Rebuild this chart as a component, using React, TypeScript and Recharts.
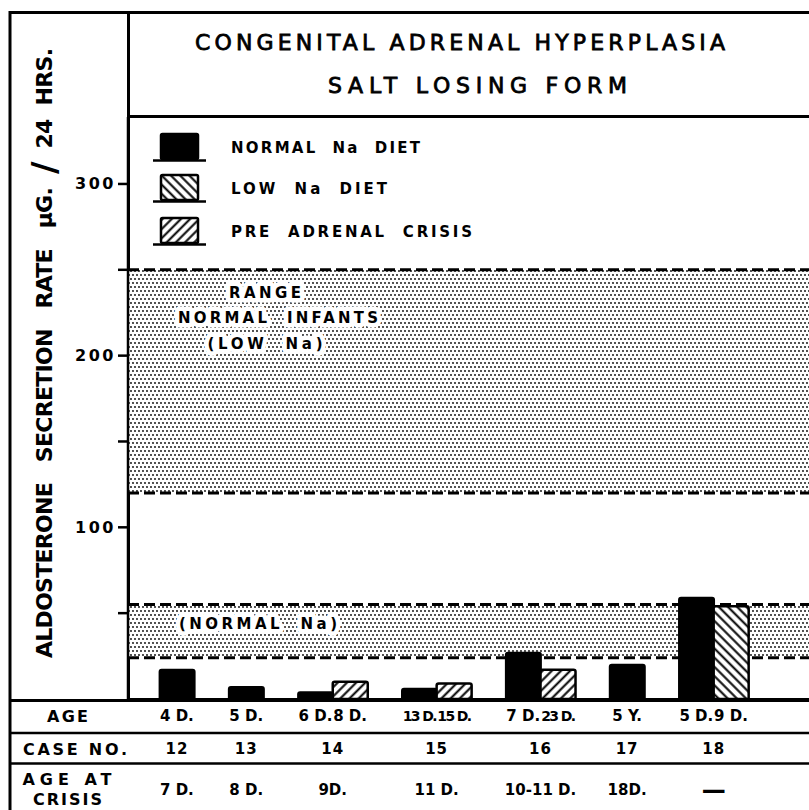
import React from 'react';
import { BarChart, Bar, Cell, XAxis, YAxis, ReferenceArea } from 'recharts';

// cases, in the order they stand in the table
const caseNumbers = ['12', '13', '14', '15', '16', '17', '18'];
const firstAges = ['4 D.', '5 D.', '6 D.', '13 D.', '7 D.', '5 Y.', '5 D.'];
const secondAges: (string | null)[] = [null, null, '8 D.', '15 D.', '23 D.', null, '9 D.'];
const crisisAges = ['7 D.', '8 D.', '9D.', '11 D.', '10-11 D.', '18D.', '—'];

// aldosterone secretion rate, µg / 24 hrs
const normalNaDiet = [17, 7, 4, 6, 27, 20, 59];
const lowNaDiet: (number | null)[] = [null, null, null, null, null, null, 54];
const preAdrenalCrisis: (number | null)[] = [null, null, 10, 9, 17, null, null];

const yTicks = [50, 100, 150, 200, 250, 300];
const lowNaRange = [120, 250];
const normalNaRange = [24, 55];

const FONT = "'DejaVu Sans', sans-serif";

type Kind = 'normal' | 'low' | 'pre' | 'gap';
interface Slot {
  key: string;
  value: number | null;
  kind: Kind;
  age: string | null;
  caseIdx: number;
  first: boolean;
  size: number;
}

// one slot per bar, with an empty slot between cases
const slots: Slot[] = [];
caseNumbers.forEach((c, i) => {
  const hasSecond = lowNaDiet[i] != null || preAdrenalCrisis[i] != null;
  const size = hasSecond ? 2 : 1;
  slots.push({ key: c + 'a', value: normalNaDiet[i], kind: 'normal', age: firstAges[i], caseIdx: i, first: true, size });
  if (hasSecond) {
    slots.push({
      key: c + 'b',
      value: lowNaDiet[i] ?? preAdrenalCrisis[i],
      kind: lowNaDiet[i] != null ? 'low' : 'pre',
      age: secondAges[i],
      caseIdx: i,
      first: false,
      size,
    });
  }
  if (i < caseNumbers.length - 1) {
    slots.push({ key: c + 'gap', value: null, kind: 'gap', age: null, caseIdx: i, first: false, size });
  }
});
const slotByKey: Record<string, Slot> = {};
slots.forEach((s) => (slotByKey[s.key] = s));

const fills: Record<Kind, string> = {
  normal: '#000',
  low: 'url(#hatchBack)',
  pre: 'url(#hatchFwd)',
  gap: 'none',
};

// layout
const CHART_LEFT = 10;
const CHART_TOP = 13;
const CHART_W = 818;
const CHART_H = 797;
const Y_AXIS_W = 118;
const X_AXIS_H = 111;
const PAD_L = 31.6;
const PAD_R = 79.7;
const BAND = (CHART_W - Y_AXIS_W - PAD_L - PAD_R) / slots.length;

const AGE_ROW = 716 - CHART_TOP;
const CASE_ROW = 749 - CHART_TOP;
const CRISIS_ROW = 790 - CHART_TOP;

function TableTick(props: any) {
  const { x, payload } = props;
  const slot = slotByKey[payload.value];
  if (!slot) return null;
  const centre = x + ((slot.size - 1) * BAND) / 2;
  const crisis = crisisAges[slot.caseIdx];
  const long = slot.age != null && slot.age.length > 4;
  return (
    <g fontFamily={FONT} fontWeight="bold" fill="#000">
      {slot.age && (
        <text x={x} y={AGE_ROW} textAnchor="middle" dominantBaseline="central"
          fontSize={long ? 14 : 15} letterSpacing={long ? -1.6 : 0}>
          {slot.age}
        </text>
      )}
      {slot.first && (
        <>
          <text x={centre} y={CASE_ROW} textAnchor="middle" dominantBaseline="central" fontSize={15} letterSpacing={1}>
            {caseNumbers[slot.caseIdx]}
          </text>
          <text x={centre} y={CRISIS_ROW} textAnchor="middle" dominantBaseline="central"
            fontSize={crisis === '—' ? 24 : 15}>
            {crisis}
          </text>
        </>
      )}
    </g>
  );
}

function ValueTick(props: any) {
  const { x, y, payload } = props;
  if (payload.value % 100 !== 0) return null;
  return (
    <text x={x} y={y} textAnchor="end" dominantBaseline="central" fontFamily={FONT} fontWeight="bold"
      fontSize={16} letterSpacing={2.5}>
      {payload.value}
    </text>
  );
}

// stippled range band, drawn across the whole plot width, dashed top and bottom
function BandShape(props: any) {
  const { x, y, width, height } = props;
  const left = x - PAD_L;
  const right = x + width + PAD_R;
  return (
    <g>
      <rect x={left} y={y} width={right - left} height={height} fill="url(#stipple)" />
      <line x1={left} y1={y} x2={right} y2={y} stroke="#000" strokeWidth={3} strokeDasharray="11 5" />
      <line x1={left} y1={y + height} x2={right} y2={y + height} stroke="#000" strokeWidth={3} strokeDasharray="11 5" />
    </g>
  );
}

const halo = {
  paintOrder: 'stroke' as const,
  stroke: '#fff',
  strokeWidth: 9,
  strokeLinejoin: 'round' as const,
  whiteSpace: 'pre' as const,
};

function UpperBandLabel(props: any) {
  const x = props.viewBox.x - PAD_L;
  const y = props.viewBox.y;
  return (
    <g fontFamily={FONT} fontWeight="bold" fontSize={15} fill="#000" textAnchor="middle">
      <text x={x + 137} y={y + 23} dominantBaseline="central" style={halo} textLength={72}>RANGE</text>
      <text x={x + 150} y={y + 48} dominantBaseline="central" style={halo} textLength={200}>NORMAL  INFANTS</text>
      <text x={x + 137} y={y + 74} dominantBaseline="central" style={halo} textLength={115}>(LOW  Na)</text>
    </g>
  );
}

function LowerBandLabel(props: any) {
  const x = props.viewBox.x - PAD_L;
  const y = props.viewBox.y;
  return (
    <text x={x + 130} y={y + 19} dominantBaseline="central" textAnchor="middle" fontFamily={FONT}
      fontWeight="bold" fontSize={15} style={halo} textLength={158}>
      (NORMAL  Na)
    </text>
  );
}

const legendItems = [
  { label: 'NORMAL  Na  DIET', fill: '#000', y: 148, len: 189 },
  { label: 'LOW  Na  DIET', fill: 'url(#hatchBack)', y: 189, len: 156 },
  { label: 'PRE  ADRENAL  CRISIS', fill: 'url(#hatchFwd)', y: 232, len: 241 },
];

function Frame() {
  return (
    <svg width={809} height={810} style={{ position: 'absolute', left: 0, top: 0 }}>
      <defs>
        <pattern id="stipple" width="4" height="8" patternUnits="userSpaceOnUse">
          <rect width="4" height="8" fill="#fff" />
          <circle cx="1" cy="2" r="0.9" fill="#000" />
          <circle cx="3" cy="6" r="0.9" fill="#000" />
        </pattern>
        <pattern id="hatchFwd" width="6.5" height="6.5" patternUnits="userSpaceOnUse" patternTransform="rotate(45)">
          <rect width="6.5" height="6.5" fill="#fff" />
          <line x1="3.25" y1="0" x2="3.25" y2="6.5" stroke="#000" strokeWidth="2" />
        </pattern>
        <pattern id="hatchBack" width="6.5" height="6.5" patternUnits="userSpaceOnUse" patternTransform="rotate(-45)">
          <rect width="6.5" height="6.5" fill="#fff" />
          <line x1="3.25" y1="0" x2="3.25" y2="6.5" stroke="#000" strokeWidth="2" />
        </pattern>
      </defs>
      <g stroke="#000" strokeWidth={3}>
        <line x1={10} y1={12.5} x2={809} y2={12.5} />
        <line x1={10} y1={11} x2={10} y2={810} />
        <line x1={128.5} y1={12.5} x2={128.5} y2={700} />
        <line x1={128.5} y1={116.5} x2={809} y2={116.5} />
        <line x1={10} y1={700.5} x2={809} y2={700.5} />
        <line x1={10} y1={733} x2={809} y2={733} strokeWidth={2.5} />
        <line x1={10} y1={763.5} x2={809} y2={763.5} strokeWidth={2.5} />
      </g>
      <g fontFamily={FONT} fill="#000" stroke="#000" strokeWidth={0.8} fontSize={22} textAnchor="middle" style={{ whiteSpace: 'pre' }}>
        <text x={460} y={42} dominantBaseline="central" textLength={530}>CONGENITAL   ADRENAL   HYPERPLASIA</text>
        <text x={477.5} y={85.5} dominantBaseline="central" textLength={299}>SALT   LOSING   FORM</text>
      </g>
      <text transform="translate(44,353) rotate(-90)" textAnchor="middle" dominantBaseline="central"
        fontFamily={FONT} fontWeight="bold" fontSize={22} textLength={610} style={{ whiteSpace: 'pre' }}>
        ALDOSTERONE   SECRETION   RATE   μG.  <tspan fontSize={34}>/</tspan>  24  HRS.
      </text>
      {legendItems.map((it) => (
        <g key={it.label}>
          <rect x={161} y={it.y - 14} width={37} height={25} fill={it.fill} stroke="#000" strokeWidth={2.5} rx={1.5} />
          <line x1={153} y1={it.y + 12.5} x2={206} y2={it.y + 12.5} stroke="#000" strokeWidth={2.5} />
          <text x={231} y={it.y} dominantBaseline="central" fontFamily={FONT} fontWeight="bold" fontSize={15}
            textLength={it.len} style={{ whiteSpace: 'pre' }}>
            {it.label}
          </text>
        </g>
      ))}
      <g fontFamily={FONT} fontWeight="bold" fontSize={16} textAnchor="middle" style={{ whiteSpace: 'pre' }}>
        <text x={67.5} y={716} dominantBaseline="central" textLength={41}>AGE</text>
        <text x={75} y={749} dominantBaseline="central" textLength={104}>CASE  NO.</text>
        <text x={67} y={779.5} dominantBaseline="central" textLength={89}>AGE   AT</text>
        <text x={67.5} y={799} dominantBaseline="central" textLength={69}>CRISIS</text>
      </g>
    </svg>
  );
}

export default function App() {
  return (
    <div style={{ position: 'absolute', left: 0, top: 0, width: 809, height: 810, overflow: 'hidden', background: '#fff' }}>
      <Frame />
      <div style={{ position: 'absolute', left: CHART_LEFT, top: CHART_TOP }}>
        <BarChart
          width={CHART_W}
          height={CHART_H}
          data={slots}
          margin={{ top: 104, right: 0, bottom: 0, left: 0 }}
          barCategoryGap={0}
          barGap={0}
        >
          <ReferenceArea
            y1={lowNaRange[0]}
            y2={lowNaRange[1]}
            shape={(p: any) => <BandShape {...p} />}
            label={<UpperBandLabel />}
          />
          <ReferenceArea
            y1={normalNaRange[0]}
            y2={normalNaRange[1]}
            shape={(p: any) => <BandShape {...p} />}
            label={<LowerBandLabel />}
          />
          <XAxis
            dataKey="key"
            height={X_AXIS_H}
            interval={0}
            tickLine={false}
            axisLine={{ stroke: '#000', strokeWidth: 2 }}
            padding={{ left: PAD_L, right: PAD_R }}
            tick={(p: any) => <TableTick {...p} />}
          />
          <YAxis
            width={Y_AXIS_W}
            domain={[0, 339]}
            ticks={yTicks}
            interval={0}
            tickSize={10}
            tickLine={{ stroke: '#000', strokeWidth: 2.5 }}
            axisLine={{ stroke: '#000', strokeWidth: 2.5 }}
            tick={(p: any) => <ValueTick {...p} />}
          />
          <Bar dataKey="value" isAnimationActive={false} stroke="#000" radius={[2, 2, 0, 0]}>
            {slots.map((s) => (
              <Cell key={s.key} fill={fills[s.kind]} strokeWidth={s.kind === 'normal' ? 2 : 2.5} />
            ))}
          </Bar>
        </BarChart>
      </div>
    </div>
  );
}
